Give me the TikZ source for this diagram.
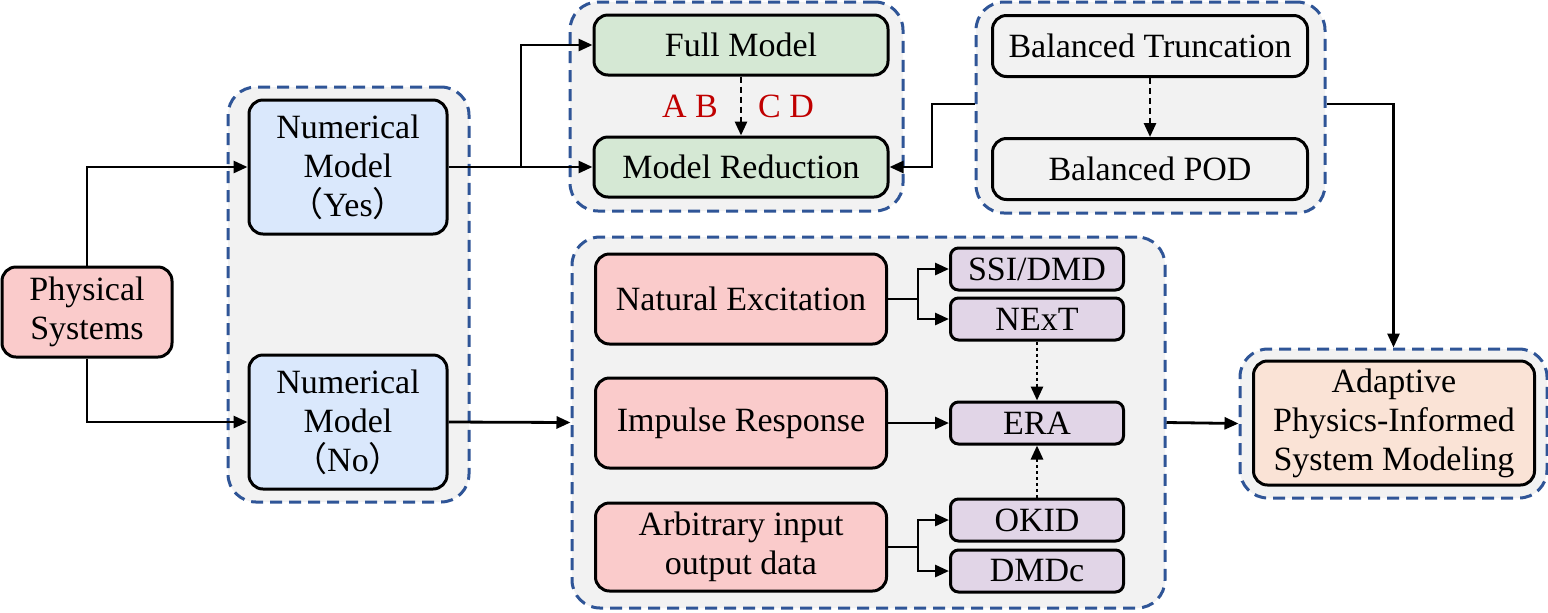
\documentclass[tikz,border=0pt]{standalone}
\usepackage{fontspec}
\setmainfont{Liberation Serif}
\newfontfamily\tnr{Liberation Serif}
\newfontfamily\cjk{Noto Sans CJK SC}
\usetikzlibrary{arrows.meta}
\definecolor{pinkf}{HTML}{FACBCB}
\definecolor{bluef}{HTML}{DAE8FC}
\definecolor{greenf}{HTML}{D5E8D4}
\definecolor{purplef}{HTML}{E1D5E7}
\definecolor{peachf}{HTML}{FAE3D6}
\definecolor{grayf}{HTML}{F2F2F2}
\definecolor{dashblue}{HTML}{2F5597}
\definecolor{labred}{HTML}{C00000}
\begin{document}
\begin{tikzpicture}[x=0.5pt,y=-0.5pt,
  font=\tnr\fontsize{17}{19.5}\selectfont,
  box/.style={draw=black, line width=1.5pt, rounded corners=7pt, align=center, inner sep=0pt},
  smallbox/.style={box, fill=purplef, rounded corners=4pt, minimum width=86.5pt, minimum height=21pt},
  group/.style={draw=dashblue, fill=grayf, line width=1.5pt, dash pattern=on 6pt off 3.5pt, rounded corners=14pt, inner sep=0pt},
  line/.style={line width=1.4pt},
  arr/.style={line width=1.4pt, -{Triangle[length=7pt,width=6pt]}},
  lab/.style={text=labred, inner sep=0pt}
]
\useasboundingbox (0,0) rectangle (1548,612);

% groups
\node[group, minimum width=120.5pt, minimum height=207.5pt] (gl) at (348.5,294.5) {};
\node[group, minimum width=166.5pt, minimum height=104.5pt] (gtm) at (736.5,106.5) {};
\node[group, minimum width=174.5pt, minimum height=105.5pt] (gtr) at (1150.5,107.5) {};
\node[group, minimum width=296.5pt, minimum height=185.5pt] (gbm) at (868.5,422.5) {};
\node[group, minimum width=153.5pt, minimum height=74.5pt] (gad) at (1393.5,423.5) {};

% boxes
\node[box, fill=pinkf, minimum width=85pt, minimum height=45pt] (ps) at (87,312) {Physical\\Systems};
\node[box, fill=bluef, minimum width=99pt, minimum height=67pt] (nmy) at (348,167) {Numerical\\Model\\{\cjk （}Yes{\cjk ）}};
\node[box, fill=bluef, minimum width=99pt, minimum height=67pt] (nmn) at (348,422) {Numerical\\Model\\{\cjk （}No{\cjk ）}};

\node[box, fill=greenf, minimum width=147pt, minimum height=30pt] (fm) at (741,45) {Full Model};
\node[box, fill=greenf, minimum width=147pt, minimum height=30pt] (mr) at (741,167) {Model Reduction};

\node[box, fill=grayf, minimum width=157.5pt, minimum height=30.5pt] (bt) at (1150,46) {Balanced Truncation};
\node[box, fill=grayf, minimum width=157.5pt, minimum height=30.5pt] (bpod) at (1150,169) {Balanced POD};

\node[box, fill=pinkf, minimum width=145.5pt, minimum height=45pt] (ne) at (741,299) {Natural Excitation};
\node[box, fill=pinkf, minimum width=145.5pt, minimum height=45pt] (ir) at (741,423) {Impulse Response};
\node[box, fill=pinkf, minimum width=145.5pt, minimum height=44pt] (ai) at (741,547) {Arbitrary input\\output data};

\node[smallbox] (ssi) at (1037,269) {SSI/DMD};
\node[smallbox] (next) at (1037,319) {NExT};
\node[smallbox] (era) at (1037,423) {ERA};
\node[smallbox] (okid) at (1037,520) {OKID};
\node[smallbox] (dmdc) at (1037,571) {DMDc};

\node[box, fill=peachf, minimum width=140.5pt, minimum height=62pt] (ad) at (1394,423) {Adaptive\\Physics-Informed\\System Modeling};

% labels
\node[lab] (ab) at (690,106) {A B};
\node[lab] (cd) at (786,106) {C D};

% connectors
\draw[arr] (ps.north) |- (nmy.west);
\draw[arr] (ps.south) |- (nmn.west);
\coordinate (j1) at (521,167);
\draw[line] (nmy.east) -- (j1);
\draw[arr] (j1) |- (fm.west);
\draw[arr] (j1) -- (mr.west);
\draw[arr, dash pattern=on 3pt off 2pt] (fm) -- (mr);
\draw[arr, dash pattern=on 3pt off 2pt] (bt) -- (bpod);
\coordinate (j2) at (932,104);
\draw[arr] (gtr.west |- j2) -- (j2) |- (mr.east);
\draw[arr] (gtr.east |- j2) -| (gad.north);
\draw[arr] (nmn.east) -- (gbm.west);
\draw[arr] (gbm.east) -- (gad.west);
\coordinate (j3) at (918,299);
\draw[line] (ne.east) -- (j3);
\draw[arr] (j3) |- (ssi.west);
\draw[arr] (j3) |- (next.west);
\draw[arr] (ir) -- (era);
\coordinate (j4) at (918,547);
\draw[line] (ai.east) -- (j4);
\draw[arr] (j4) |- (okid.west);
\draw[arr] (j4) |- (dmdc.west);
\draw[arr, dash pattern=on 1.5pt off 1.5pt] (next) -- (era);
\draw[arr, dash pattern=on 1.5pt off 1.5pt] (okid) -- (era);
\end{tikzpicture}
\end{document}
